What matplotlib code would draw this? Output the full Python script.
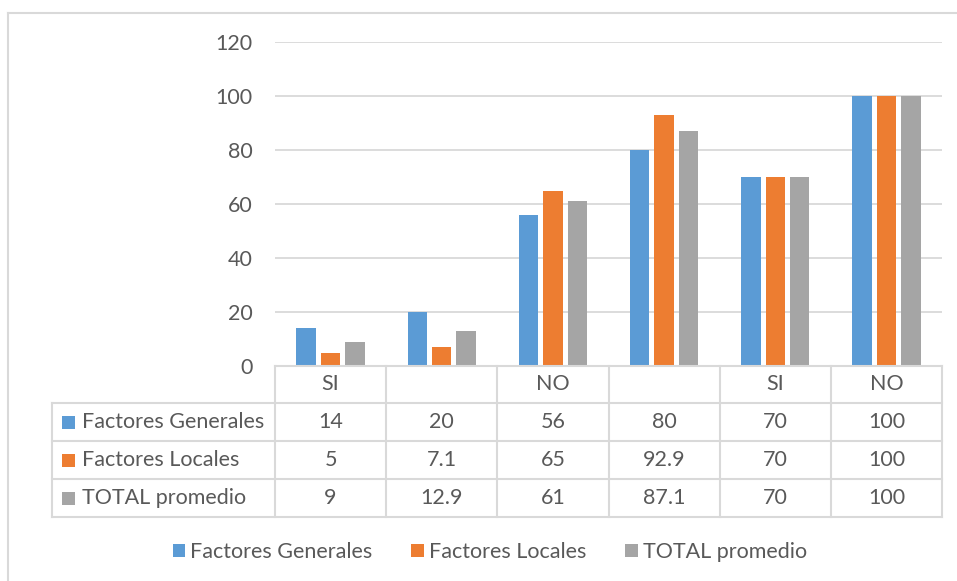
import matplotlib.pyplot as plt
from matplotlib.lines import Line2D
from matplotlib.patches import Patch, Rectangle
from matplotlib.transforms import blended_transform_factory

plt.rcParams['font.family'] = ['Lato', 'DejaVu Sans']

# data
categories = ['SI', '', 'NO', '', 'SI', 'NO']
series_names = ['Factores Generales', 'Factores Locales', 'TOTAL promedio']
generales = [14, 20, 56, 80, 70, 100]
locales = [5, 7.1, 65, 92.9, 70, 100]
total = [9, 12.9, 61, 87.1, 70, 100]
labels_generales = ['14', '20', '56', '80', '70', '100']
labels_locales = ['5', '7.1', '65', '92.9', '70', '100']
labels_total = ['9', '12.9', '61', '87.1', '70', '100']

colors = ['#5b9bd5', '#ed7d31', '#a5a5a5']
text_color = '#595959'
line_color = '#d9d9d9'
fs = 15.5

W, H = 957, 581
fig = plt.figure(figsize=(W / 100, H / 100), dpi=100)


def fx(x):
    return x / W


def fy(y):
    return 1 - y / H


ax = fig.add_axes([fx(275), fy(366), fx(942) - fx(275), fy(42) - fy(366)])

series = [generales, locales, total]
offsets = [-0.22, 0, 0.22]
xs = [i + 0.5 for i in range(len(categories))]
for vals, off, c in zip(series, offsets, colors):
    ax.bar([x + off for x in xs], vals, width=0.175, color=c, zorder=3)

ax.set_xlim(0, len(categories))
ax.set_ylim(0, 120)
ax.set_yticks(range(0, 121, 20))
ax.set_xticks([])
ax.yaxis.grid(True, color=line_color, linewidth=1.3, zorder=0)
ax.tick_params(axis='y', length=0, pad=16, labelsize=fs, labelcolor=text_color)
for s in ax.spines.values():
    s.set_visible(False)

# outer chart border (left and top edges)
fig.add_artist(Line2D([fx(8), fx(8)], [fy(13), 0], transform=fig.transFigure,
                      color=line_color, linewidth=1.5))
fig.add_artist(Line2D([fx(8), 1], [fy(13), fy(13)], transform=fig.transFigure,
                      color=line_color, linewidth=1.5))

# data table under the plot
row_y = [366, 403, 441, 479, 517]
col_x = [275 + (942 - 275) * i / len(categories) for i in range(len(categories) + 1)]
lw = 1.5


def hline(x0, x1, y):
    fig.add_artist(Line2D([fx(x0), fx(x1)], [fy(y), fy(y)], transform=fig.transFigure,
                          color=line_color, linewidth=lw))


def vline(x, y0, y1):
    fig.add_artist(Line2D([fx(x), fx(x)], [fy(y0), fy(y1)], transform=fig.transFigure,
                          color=line_color, linewidth=lw))


hline(275, 942, row_y[0])
for y in row_y[1:]:
    hline(52, 942, y)
vline(52, row_y[1], row_y[-1])
for x in col_x:
    vline(x, row_y[0], row_y[-1])

tr = blended_transform_factory(ax.transData, fig.transFigure)
for x, cat in zip(xs, categories):
    fig.text(x, fy((row_y[0] + row_y[1]) / 2), cat, transform=tr, ha='center', va='center',
             fontsize=fs, color=text_color)

rows = [labels_generales, labels_locales, labels_total]
for r, (name, labs, c) in enumerate(zip(series_names, rows, colors)):
    yc = (row_y[r + 1] + row_y[r + 2]) / 2
    fig.add_artist(Rectangle((fx(62), fy(yc + 6.5)), fx(13), 13 / H, transform=fig.transFigure,
                             facecolor=c, edgecolor='none'))
    fig.text(fx(82), fy(yc), name, ha='left', va='center', fontsize=fs, color=text_color)
    for x, lab in zip(xs, labs):
        fig.text(x, fy(yc), lab, transform=tr, ha='center', va='center',
                 fontsize=fs, color=text_color)

handles = [Patch(facecolor=c, edgecolor='none', label=n) for c, n in zip(colors, series_names)]
fig.legend(handles=handles, loc='center', bbox_to_anchor=(fx(490), fy(552)), ncol=3,
           frameon=False, fontsize=fs, labelcolor=text_color, handlelength=0.6,
           handleheight=0.6, handletextpad=0.23, columnspacing=1.8)

fig.savefig('out.png', dpi=100)
